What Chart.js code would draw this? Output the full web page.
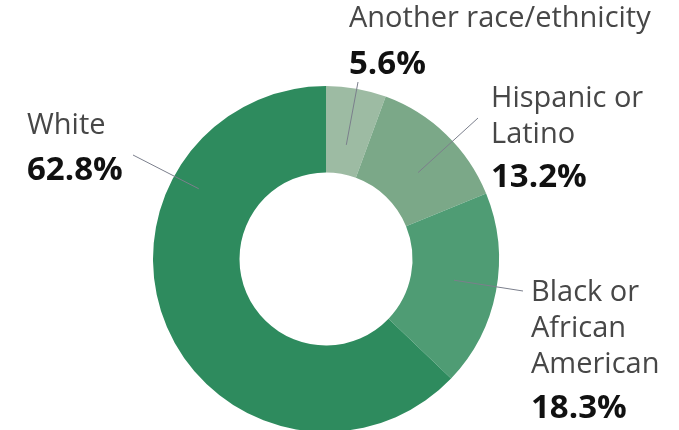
<!DOCTYPE html>
<html>
<head>
<meta charset="utf-8">
<script src="https://cdn.jsdelivr.net/npm/chart.js@4"></script>
<style>
  html, body { margin:0; padding:0; background:#fff; overflow:hidden; }
  #wrap { width:679px; height:430px; overflow:hidden; }
</style>
</head>
<body>
<div id="wrap"><canvas id="donut" width="679" height="434"></canvas></div>
<script>
const categories = ["Another race/ethnicity", "Hispanic or Latino", "Black or African American", "White"];
const shares     = [5.6, 13.2, 18.3, 62.8];
const colors     = ["#9dbba3", "#7ba888", "#4f9c74", "#2e8b5e"];

// how each label is broken into lines
const labelLines = [
  ["Another race/ethnicity"],
  ["Hispanic or", "Latino"],
  ["Black or", "African", "American"],
  ["White"]
];

// label placement: text left x / first baseline, leader end point, and where on the slice the leader starts
const labelLayout = [
  { x:349, y:27,  gap:47, lead:[358, 82],  t:0.50, r:0.67 },
  { x:491, y:107, gap:44, lead:[478, 118], t:0.56, r:0.73 },
  { x:531, y:301, gap:45, lead:[523, 291], t:0.48, r:0.75 },
  { x:27,  y:134, gap:46, lead:[133, 155], t:0.73, r:0.84 }
];

const labelPlugin = {
  id: "sliceLabels",
  afterDatasetsDraw(chart) {
    const c = chart.ctx;
    const arcs = chart.getDatasetMeta(0).data;
    arcs.forEach((arc, i) => {
      const L = labelLayout[i];
      const a = arc.startAngle + (arc.endAngle - arc.startAngle) * L.t;
      const rr = arc.outerRadius * L.r;
      const px = arc.x + Math.cos(a) * rr;
      const py = arc.y + Math.sin(a) * rr;

      c.save();
      c.strokeStyle = "#7b7f8c";
      c.lineWidth = 1;
      c.beginPath();
      c.moveTo(px, py);
      c.lineTo(L.lead[0], L.lead[1]);
      c.stroke();

      c.textAlign = "left";
      c.textBaseline = "alphabetic";
      c.fillStyle = "#474747";
      c.font = "29px 'Open Sans'";
      let y = L.y;
      labelLines[i].forEach((line, k) => {
        if (k > 0) y += 36;
        c.fillText(line, L.x, y);
      });
      y += L.gap;
      c.fillStyle = "#111";
      c.font = "bold 33px 'Open Sans'";
      c.fillText(shares[i].toFixed(1) + "%", L.x, y);
      c.restore();
    });
  }
};

new Chart(document.getElementById("donut").getContext("2d"), {
  type: "doughnut",
  data: {
    labels: categories,
    datasets: [{
      data: shares,
      backgroundColor: colors,
      borderWidth: 0
    }]
  },
  options: {
    responsive: false,
    animation: false,
    cutout: "50%",
    layout: { padding: { left:153, right:180, top:86, bottom:2 } },
    plugins: {
      legend: { display:false },
      tooltip: { enabled:false }
    }
  },
  plugins: [labelPlugin]
});
</script>
</body>
</html>
